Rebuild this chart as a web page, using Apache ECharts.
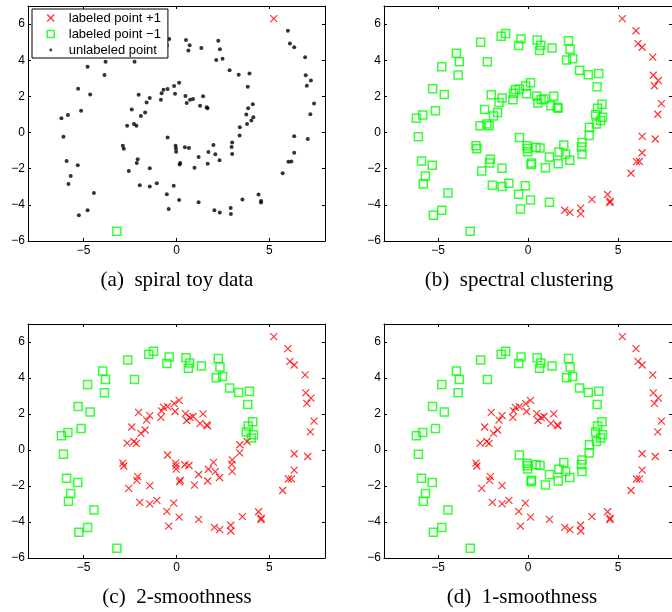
<!DOCTYPE html>
<html><head><meta charset="utf-8">
<script src="https://cdn.jsdelivr.net/npm/echarts@6/dist/echarts.min.js"></script>
<style>html,body{margin:0;padding:0;background:#fff}#c{width:672px;height:612px}</style>
</head><body><div id="c"></div>
<script>
// ---- data ----
const pointX = [
  // outer spiral
  -6.20,-5.85,-6.09,-5.14,-5.30,-4.65,-4.79,-3.98,-3.82,-3.88,
  -2.63,-2.26,-1.49,-1.24,-0.39,-0.52,0.51,0.71,0.64,1.34,
  2.25,2.34,2.14,2.48,2.86,3.35,3.93,3.84,4.11,3.86,
  3.76,4.14,4.03,3.80,3.41,3.40,3.00,2.97,3.00,
  -5.92,-5.32,-5.70,-5.82,-4.45,-4.79,-5.26,-3.21,
  // inner spiral
  -2.41,-2.04,-1.44,-1.61,-1.69,-1.92,-2.29,-2.16,-2.66,
  -0.84,-0.80,-0.70,-0.48,-0.13,0.14,-0.08,0.48,0.55,0.73,0.89,1.27,1.43,1.63,1.67,
  -2.89,-2.84,-2.09,-2.14,-2.57,-1.44,-1.98,-1.44,-1.06,-0.15,-0.52,0.14,-0.42,1.19,
  // centre
  -0.48,-0.05,-0.03,-0.02,0.45,0.67,0.20,0.17,0.97,1.19,1.72,1.99,2.09,1.68,2.32,
  // outer right arm
  5.24,6.00,6.11,6.34,6.93,6.96,7.24,7.02,7.41,7.21,6.34,7.07,
  6.34,6.03,6.19,5.72,4.42,4.56,4.55,3.55,2.92,2.93,2.04,2.33
];
const pointY = [
  0.79,0.97,-0.23,1.20,2.42,2.11,3.64,4.39,3.92,3.18,
  5.00,3.92,5.32,5.48,5.17,4.81,5.12,4.83,4.54,4.67,
  5.08,4.61,4.01,4.08,3.44,3.20,3.26,2.53,1.57,1.34,
  1.00,0.85,0.67,0.47,0.29,-0.16,-0.55,-0.80,-1.19,
  -1.57,-1.81,-2.41,-2.85,-3.34,-4.30,-4.57,-5.46,
  1.28,2.09,1.91,1.66,1.11,0.92,0.47,0.37,0.38,
  1.81,2.17,2.37,2.41,2.58,2.76,2.14,2.02,1.64,1.81,1.86,1.48,2.01,1.40,1.34,
  -0.73,-0.89,-1.48,-1.69,-2.13,-1.98,-2.91,-2.99,-2.80,-2.95,-3.41,-3.73,-4.23,-3.85,
  -0.28,-0.73,-0.88,-1.06,-0.82,-0.86,-1.68,-1.77,-1.95,-1.36,-1.07,-0.69,-1.20,-1.72,-1.53,
  6.30,5.63,4.92,4.72,4.17,3.17,2.88,2.59,1.60,1.01,-0.21,-0.36,
  -1.12,-1.61,-1.60,-2.25,-3.43,-3.79,-3.87,-3.70,-4.18,-4.50,-4.30,-4.42
];
const spectralLabel = [
  -1,-1,-1,-1,-1,-1,-1,-1,-1,-1,
  -1,-1,-1,-1,-1,-1,-1,-1,-1,-1,
  -1,-1,-1,-1,-1,-1,-1,-1,-1,-1,
  -1,-1,-1,-1,-1,-1,-1,-1,-1,
  -1,-1,-1,-1,-1,-1,-1,-1,
  -1,-1,-1,-1,-1,-1,-1,-1,-1,
  -1,-1,-1,-1,-1,-1,-1,-1,-1,-1,-1,-1,-1,-1,-1,
  -1,-1,-1,-1,-1,-1,-1,-1,-1,-1,-1,-1,-1,-1,
  -1,-1,-1,-1,-1,-1,-1,-1,-1,-1,-1,-1,-1,-1,-1,
  1,1,1,1,1,1,1,1,1,1,1,1,
  1,1,1,1,1,1,1,1,1,1,1,1
];
const smooth2Label = [
  -1,-1,-1,-1,-1,-1,-1,-1,-1,-1,
  -1,-1,-1,-1,-1,-1,-1,-1,-1,-1,
  -1,-1,-1,-1,-1,-1,-1,-1,-1,-1,
  -1,-1,-1,1,1,1,1,1,1,
  -1,-1,-1,-1,-1,-1,-1,-1,
  1,1,1,1,1,1,1,1,1,
  1,1,1,1,1,1,1,1,1,1,1,1,1,1,1,
  1,1,1,1,1,1,1,1,1,1,1,1,1,1,
  1,1,1,1,1,1,1,1,1,1,1,1,1,1,1,
  1,1,1,1,1,1,1,1,1,1,1,1,
  1,1,1,1,1,1,1,1,1,1,1,1
];
const smooth1Label = [
  -1,-1,-1,-1,-1,-1,-1,-1,-1,-1,
  -1,-1,-1,-1,-1,-1,-1,-1,-1,-1,
  -1,-1,-1,-1,-1,-1,-1,-1,-1,-1,
  -1,-1,-1,-1,-1,-1,-1,-1,-1,
  -1,-1,-1,-1,-1,-1,-1,-1,
  1,1,1,1,1,1,1,1,1,
  1,1,1,1,1,1,1,1,1,1,1,1,1,1,1,
  1,1,1,1,1,1,1,1,1,1,1,1,1,1,
  -1,-1,-1,-1,-1,-1,-1,-1,-1,-1,-1,-1,-1,-1,-1,
  1,1,1,1,1,1,1,1,1,1,1,1,
  1,1,1,1,1,1,1,1,1,1,1,1
];
const labeledPositiveIndex = 100;
const labeledNegativeIndex = 46;
const xTicks = [-5, 0, 5];
const yTicks = [-6, -4, -2, 0, 2, 4, 6];
const captions = ['(a)  spiral toy data', '(b)  spectral clustering', '(c)  2-smoothness', '(d)  1-smoothness'];
const legendNames = ['labeled point +1', 'labeled point \u22121', 'unlabeled point'];

// ---- layout / styles ----
const RED = '#ff0000', GREEN = '#00ff00';
const X_PATH = 'path://M0,0L10,10M0,10L10,0';
const grids = [
  {left: 28, top: 6, width: 297, height: 235},
  {left: 384, top: 6, width: 297, height: 235},
  {left: 28, top: 324, width: 297, height: 234},
  {left: 384, top: 324, width: 297, height: 234}
];
const captionPos = [[177, 280], [519, 280], [177, 597], [522, 597]];
const fmt = v => String(v).replace('-', '\u2212');
const tickFont = {color: '#000', fontSize: 12, fontFamily: 'Liberation Sans'};

const xAxes = [], yAxes = [];
grids.forEach((g, i) => {
  ['bottom', 'top'].forEach(pos => xAxes.push({
    type: 'value', gridIndex: i, min: -8, max: 8, position: pos,
    axisLine: {show: true, onZero: false, lineStyle: {color: '#000', width: 1}},
    axisTick: {show: true, inside: true, length: 3, customValues: xTicks, lineStyle: {color: '#000'}},
    axisLabel: Object.assign({show: pos === 'bottom', customValues: xTicks, formatter: fmt, margin: 4}, tickFont),
    splitLine: {show: false}
  }));
  ['left', 'right'].forEach(pos => yAxes.push({
    type: 'value', gridIndex: i, min: -6, max: 7, position: pos,
    axisLine: {show: true, onZero: false, lineStyle: {color: '#000', width: 1}},
    axisTick: {show: true, inside: true, length: 3, customValues: yTicks, lineStyle: {color: '#000'}},
    axisLabel: Object.assign({show: pos === 'left', customValues: yTicks, formatter: fmt, margin: 3}, tickFont),
    splitLine: {show: false}
  }));
});

const xStyle = {symbol: X_PATH, symbolSize: 7, itemStyle: {color: 'rgba(0,0,0,0)', borderColor: RED, borderWidth: 1.2}};
const sqStyle = {symbol: 'rect', symbolSize: 8, itemStyle: {color: 'rgba(0,0,0,0)', borderColor: GREEN, borderWidth: 1.5}};
const pts = idx => idx.map(i => [pointX[i], pointY[i]]);
const allIdx = pointX.map((_, i) => i);

const series = [];
// panel (a)
series.push({type: 'scatter', name: legendNames[2], xAxisIndex: 0, yAxisIndex: 0,
  data: pts(allIdx.filter(i => i !== labeledPositiveIndex && i !== labeledNegativeIndex)),
  symbol: 'circle', symbolSize: 4, itemStyle: {color: '#000'}});
series.push(Object.assign({type: 'scatter', name: legendNames[0], xAxisIndex: 0, yAxisIndex: 0,
  data: pts([labeledPositiveIndex])}, xStyle));
series.push(Object.assign({type: 'scatter', name: legendNames[1], xAxisIndex: 0, yAxisIndex: 0,
  data: pts([labeledNegativeIndex])}, sqStyle));
// panels (b)-(d)
[spectralLabel, smooth2Label, smooth1Label].forEach((lab, k) => {
  const gi = k + 1;
  series.push(Object.assign({type: 'scatter', name: 'neg' + gi, xAxisIndex: gi * 2, yAxisIndex: gi * 2,
    data: pts(allIdx.filter(i => lab[i] < 0))}, sqStyle));
  series.push(Object.assign({type: 'scatter', name: 'pos' + gi, xAxisIndex: gi * 2, yAxisIndex: gi * 2,
    data: pts(allIdx.filter(i => lab[i] > 0))}, xStyle));
});

const option = {
  animation: false,
  backgroundColor: '#fff',
  graphic: captions.map((t, i) => ({
    type: 'text', x: captionPos[i][0], y: captionPos[i][1], silent: true,
    style: {text: t, fill: '#000', font: '21px "Liberation Serif"', textAlign: 'center', textVerticalAlign: 'middle'}
  })),
  grid: grids,
  xAxis: xAxes,
  yAxis: yAxes,
  legend: {
    orient: 'vertical', left: 32, top: 9, z: 10,
    backgroundColor: '#fff', borderColor: '#000', borderWidth: 1,
    padding: [2, 7, 1, 14], itemGap: 2, itemWidth: 17, itemHeight: 8,
    textStyle: {fontSize: 13, fontFamily: 'Liberation Sans', color: '#000', lineHeight: 14},
    data: [
      {name: legendNames[0], icon: 'path://M0,0M17,8M0.5,0.5L7.5,7.5M0.5,7.5L7.5,0.5',
       itemStyle: {color: 'rgba(0,0,0,0)', borderColor: RED, borderWidth: 1.2}},
      {name: legendNames[1], icon: 'path://M0,0M17,8M0.5,0.5L7.5,0.5L7.5,7.5L0.5,7.5Z',
       itemStyle: {color: 'rgba(0,0,0,0)', borderColor: GREEN, borderWidth: 1.5}},
      {name: legendNames[2], icon: 'path://M0,0M17,8M2.6,4A1.4,1.4 0 1,1 5.4,4A1.4,1.4 0 1,1 2.6,4Z',
       itemStyle: {color: '#000', borderWidth: 0}}
    ]
  },
  series: series
};
const chart = echarts.init(document.getElementById('c'), null, {renderer: 'canvas'});
chart.setOption(option);
</script>
</body></html>
